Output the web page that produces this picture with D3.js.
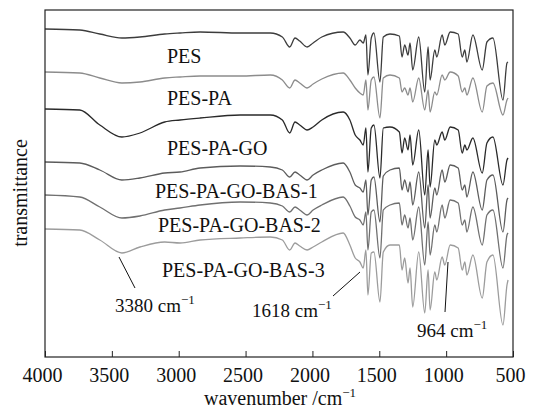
<!DOCTYPE html>
<html><head><meta charset="utf-8">
<script src="https://cdn.jsdelivr.net/npm/d3@7"></script>
<style>html,body{margin:0;padding:0;background:#fff;}svg{display:block;}text{font-family:"Liberation Serif","Times New Roman",serif;fill:#111;}</style>
</head><body>
<svg id="chart" width="534" height="412"></svg>
<script>
const wavenumbers = [4000,3740,3590,3425,3290,3105,2990,2840,2540,2315,2225,2170,2130,2095,2040,1995,1930,1770,1720,1680,1645,1620,1600,1585,1560,1540,1495,1470,1420,1350,1330,1310,1285,1270,1250,1205,1160,1135,1120,1085,1070,1030,1010,970,910,880,860,845,800,730,695,650,575,545,537];
const seriesNames = ["PES","PES-PA","PES-PA-GO","PES-PA-GO-BAS-1","PES-PA-GO-BAS-2","PES-PA-GO-BAS-3"];
const pes = [331,330,326,322,323,326,327,328,327,327,323,313,322,319,313,317,323,328,322,315,320,317,325,285,322,327,278,323,326,324,303,315,305,317,290,323,268,313,280,310,303,325,315,328,326,303,310,298,325,290,318,322,260,297,298];
const pesPa = [288,287,282,277,278,282,283,284,284,285,280,272,280,277,272,276,281,287,280,272,267,265,280,250,280,283,242,282,285,282,268,272,265,272,258,282,250,270,248,268,265,285,280,288,284,268,272,265,282,248,274,277,245,260,262];
const pesPaGo = [251,250,235,223,227,238,240,242,245,245,240,227,238,235,230,233,240,248,240,225,220,215,232,188,232,235,182,232,233,228,207,222,210,225,195,230,165,210,173,220,215,228,220,233,230,207,215,210,222,187,217,223,175,200,202];
const bas1 = [198,197,190,180,182,187,188,192,194,193,190,183,188,185,180,185,190,197,188,175,172,168,180,145,180,183,138,184,190,192,170,180,168,178,155,188,132,175,142,172,165,190,178,195,192,170,175,163,188,150,180,185,128,160,162];
const bas2 = [165,163,153,142,144,150,152,155,158,157,154,148,153,150,145,150,155,163,154,143,140,135,148,110,148,150,102,150,155,157,135,145,132,142,120,153,95,138,105,135,128,155,142,160,157,135,140,128,153,115,145,150,92,125,127];
const bas3 = [131,130,120,107,113,118,117,120,122,123,120,110,117,114,110,113,118,127,115,102,98,92,110,65,107,108,58,108,115,115,90,102,77,92,53,108,47,90,50,88,80,103,95,115,112,90,98,85,105,62,98,105,35,75,80];
const xTicks = [4000,3500,3000,2500,2000,1500,1000,500];
const annotations = [
  {num:"3380", wn:3380},
  {num:"1618", wn:1618},
  {num:"964", wn:964}
];

const allSeries = [pes, pesPa, pesPaGo, bas1, bas2, bas3];
const colors = ["#3c3c3c","#8c8c8c","#2a2a2a","#5c5c5c","#707070","#9c9c9c"];
const labelPos = [[167,63],[167,105],[167,155],[155,198],[158,232],[162,277]];

const svg = d3.select("#chart");
const L = 45, R = 513, T = 10, B = 357;
const x = d3.scaleLinear().domain([4000, 500]).range([L, R]);
const y = d3.scaleLinear().domain([3, 350]).range([B, T]);

const line = d3.line().curve(d3.curveMonotoneX).x((d,i)=>x(wavenumbers[i])).y(d=>y(d));
allSeries.forEach((s,k)=>{
  svg.append("path").attr("d", line(s)).attr("fill","none")
    .attr("stroke", colors[k]).attr("stroke-width",1.3).attr("stroke-linejoin","round");
});

// frame
svg.append("rect").attr("x",L).attr("y",T).attr("width",R-L).attr("height",B-T)
  .attr("fill","none").attr("stroke","#222").attr("stroke-width",1.2);

const ax = svg.append("g").attr("transform",`translate(0,${B})`)
  .call(d3.axisBottom(x).tickValues(xTicks).tickFormat(d3.format("d")).tickSizeInner(-6).tickSizeOuter(0).tickPadding(11));
ax.select(".domain").remove();
ax.selectAll("line").attr("stroke","#222");
ax.selectAll("text").attr("dx",-3).style("font-size","20px").attr("fill","#111").style("font-family",'"Liberation Serif",serif');

// series labels
seriesNames.forEach((n,k)=>{
  svg.append("text").attr("x",labelPos[k][0]).attr("y",labelPos[k][1]).style("font-size","20px").text(n);
});

// axis titles
const xt = svg.append("text").attr("x",280).attr("y",405).attr("text-anchor","middle").style("font-size","20px");
xt.append("tspan").text("wavenumber /cm");
xt.append("tspan").attr("dy",-8).style("font-size","13px").text("−1");

svg.append("text").attr("transform","translate(27,193) rotate(-90)").attr("text-anchor","middle")
  .style("font-size","20px").text("transmittance");

// annotations
const annPos = [[115,312,119,257,135,288],[252,317,360,272,333,296],[417,337,448,262,445,312]];
annotations.forEach((a,k)=>{
  const p = annPos[k];
  svg.append("line").attr("x1",p[2]).attr("y1",p[3]).attr("x2",p[4]).attr("y2",p[5]).attr("stroke","#111").attr("stroke-width",1);
  const t = svg.append("text").attr("x",p[0]).attr("y",p[1]).style("font-size","19px");
  t.append("tspan").text(a.num + " cm");
  t.append("tspan").attr("dy",-8).style("font-size","13px").text("−1");
});
</script>
</body></html>
